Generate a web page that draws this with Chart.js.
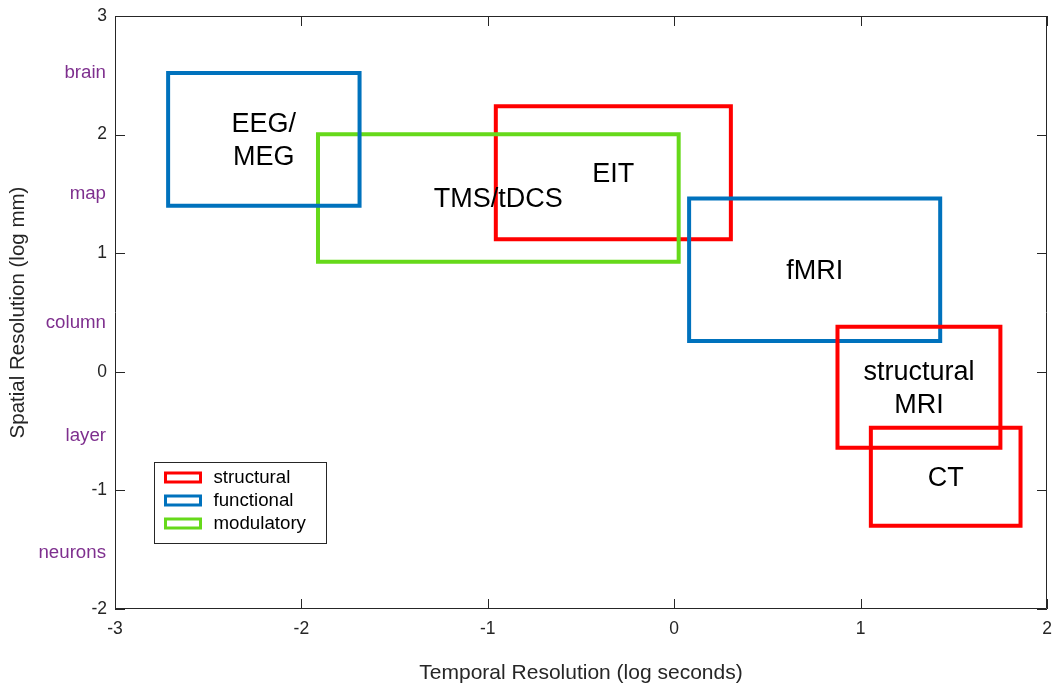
<!DOCTYPE html>
<html>
<head>
<meta charset="utf-8">
<title>Neuroimaging resolution</title>
<script src="https://cdn.jsdelivr.net/npm/chart.js@4/dist/chart.umd.min.js"></script>
<style>
  html, body { margin: 0; padding: 0; background: #ffffff; }
  #wrap { width: 1052px; height: 686px; }
</style>
</head>
<body>
<div id="wrap"><canvas id="chart" width="1052" height="686"></canvas></div>
<script>
// Methods, listed from the back of the drawing to the front
const methodNames = ['EIT', 'TMS/tDCS', 'EEG/\nMEG', 'fMRI', 'structural\nMRI', 'CT'];
const methodKinds = ['structural', 'modulatory', 'functional', 'functional', 'structural', 'structural'];
// Temporal resolution range (log seconds)
const timeMin = [-0.957, -1.911, -2.715, 0.080, 0.876, 1.055];
const timeMax = [0.304, 0.024, -1.688, 1.427, 1.750, 1.858];
// Spatial resolution range (log mm)
const spaceMin = [1.117, 0.927, 1.400, 0.259, -0.640, -1.298];
const spaceMax = [2.239, 2.003, 2.520, 1.461, 0.379, -0.472];

// Legend categories
const kindNames = ['structural', 'functional', 'modulatory'];
const kindColors = ['#ff0000', '#0072bd', '#66d91a'];

// Anatomical scale names along the spatial axis
const scaleNames = ['brain', 'map', 'column', 'layer', 'neurons'];
const scaleLevels = [2.53, 1.51, 0.42, -0.53, -1.52];

// Axis ticks
const xTicks = [-3, -2, -1, 0, 1, 2];
const yTicks = [-2, -1, 0, 1, 2, 3];

const FONT = "'Liberation Sans', Arial, Helvetica, sans-serif";
const AXIS_COLOR = '#262626';

function kindColor(kind) {
  return kindColors[kindNames.indexOf(kind)];
}

const datasets = methodNames.map((name, i) => ({
  label: name,
  data: [
    { x: timeMin[i], y: spaceMin[i] },
    { x: timeMax[i], y: spaceMin[i] },
    { x: timeMax[i], y: spaceMax[i] },
    { x: timeMin[i], y: spaceMax[i] },
    { x: timeMin[i], y: spaceMin[i] }
  ],
  showLine: true,
  fill: false,
  tension: 0,
  borderColor: kindColor(methodKinds[i]),
  borderWidth: 4,
  borderJoinStyle: 'miter',
  borderCapStyle: 'square',
  pointRadius: 0,
  pointHoverRadius: 0,
  order: methodNames.length - 1 - i
}));

// Box frame with inward tick marks on all four sides
const framePlugin = {
  id: 'frame',
  afterDatasetsDraw(chart) {
    const { ctx, chartArea: a, scales } = chart;
    const len = 10;
    ctx.save();
    ctx.strokeStyle = AXIS_COLOR;
    ctx.lineWidth = 1;
    ctx.beginPath();
    ctx.rect(Math.round(a.left) + 0.5, Math.round(a.top) + 0.5,
             Math.round(a.right - a.left) - 1, Math.round(a.bottom - a.top) - 1);
    xTicks.forEach(v => {
      const px = Math.round(scales.x.getPixelForValue(v)) + 0.5;
      ctx.moveTo(px, a.bottom); ctx.lineTo(px, a.bottom - len);
      ctx.moveTo(px, a.top); ctx.lineTo(px, a.top + len);
    });
    yTicks.forEach(v => {
      const py = Math.round(scales.y.getPixelForValue(v)) + 0.5;
      ctx.moveTo(a.left, py); ctx.lineTo(a.left + len, py);
      ctx.moveTo(a.right, py); ctx.lineTo(a.right - len, py);
    });
    ctx.stroke();
    ctx.restore();
  }
};

// Method names centred in their boxes, scale names beside the y axis
const textPlugin = {
  id: 'texts',
  afterDatasetsDraw(chart) {
    const { ctx, chartArea: a, scales } = chart;
    ctx.save();
    ctx.fillStyle = '#000000';
    ctx.font = `27px ${FONT}`;
    ctx.textAlign = 'center';
    ctx.textBaseline = 'middle';
    const lineGap = 33;
    methodNames.forEach((name, i) => {
      const cx = scales.x.getPixelForValue((timeMin[i] + timeMax[i]) / 2);
      const cy = scales.y.getPixelForValue((spaceMin[i] + spaceMax[i]) / 2) + 1.5;
      const lines = name.split('\n');
      lines.forEach((ln, k) => {
        ctx.fillText(ln, cx, cy + (k - (lines.length - 1) / 2) * lineGap);
      });
    });

    ctx.fillStyle = '#7e2f8e';
    ctx.font = `18.7px ${FONT}`;
    ctx.textAlign = 'right';
    scaleNames.forEach((name, i) => {
      ctx.fillText(name, a.left - 9, scales.y.getPixelForValue(scaleLevels[i]) + 1);
    });
    ctx.restore();
  }
};

// Category legend boxed inside the lower-left of the plot
const legendPlugin = {
  id: 'kindLegend',
  afterDraw(chart) {
    const { ctx, chartArea: a } = chart;
    const left = a.left + 39.5, top = a.bottom - 146.5, w = 172, h = 81;
    ctx.save();
    ctx.fillStyle = '#ffffff';
    ctx.fillRect(left, top, w, h);
    ctx.strokeStyle = AXIS_COLOR;
    ctx.lineWidth = 1;
    ctx.strokeRect(left, top, w, h);
    ctx.font = `18.7px ${FONT}`;
    ctx.textAlign = 'left';
    ctx.textBaseline = 'middle';
    kindNames.forEach((name, i) => {
      const rowY = top + 15 + i * 23;
      ctx.strokeStyle = kindColors[i];
      ctx.lineWidth = 3;
      ctx.strokeRect(left + 11, rowY - 4.5, 35, 9);
      ctx.fillStyle = '#000000';
      ctx.fillText(name, left + 59, rowY);
    });
    ctx.restore();
  }
};

new Chart(document.getElementById('chart'), {
  type: 'scatter',
  data: { datasets },
  options: {
    responsive: false,
    animation: false,
    events: [],
    layout: { padding: { left: 0, right: 5, top: 16, bottom: 0 } },
    plugins: {
      legend: { display: false },
      tooltip: { enabled: false },
      title: { display: false }
    },
    scales: {
      x: {
        type: 'linear',
        min: -3, max: 2,
        afterBuildTicks(scale) { scale.ticks = xTicks.map(v => ({ value: v })); },
        afterFit(scale) {
          scale.height = 77;
          scale.paddingLeft = 0;
          scale.paddingRight = 0;
        },
        grid: { display: false, drawTicks: false },
        border: { display: false },
        ticks: {
          color: AXIS_COLOR,
          font: { family: FONT, size: 17.5 },
          padding: 10,
          maxRotation: 0
        },
        title: {
          display: true,
          text: 'Temporal Resolution (log seconds)',
          color: AXIS_COLOR,
          font: { family: FONT, size: 21 },
          padding: { top: 0, bottom: 0 }
        }
      },
      y: {
        type: 'linear',
        min: -2, max: 3,
        afterBuildTicks(scale) { scale.ticks = yTicks.map(v => ({ value: v })); },
        afterFit(scale) {
          scale.width = 115;
          scale.paddingTop = 0;
          scale.paddingBottom = 0;
        },
        grid: { display: false, drawTicks: false },
        border: { display: false },
        ticks: {
          color: AXIS_COLOR,
          font: { family: FONT, size: 17.5 },
          padding: 8
        },
        title: {
          display: true,
          text: 'Spatial Resolution (log mm)',
          color: AXIS_COLOR,
          font: { family: FONT, size: 20.5 },
          padding: { top: 6, bottom: 0 }
        }
      }
    }
  },
  plugins: [framePlugin, textPlugin, legendPlugin]
});
</script>
</body>
</html>
